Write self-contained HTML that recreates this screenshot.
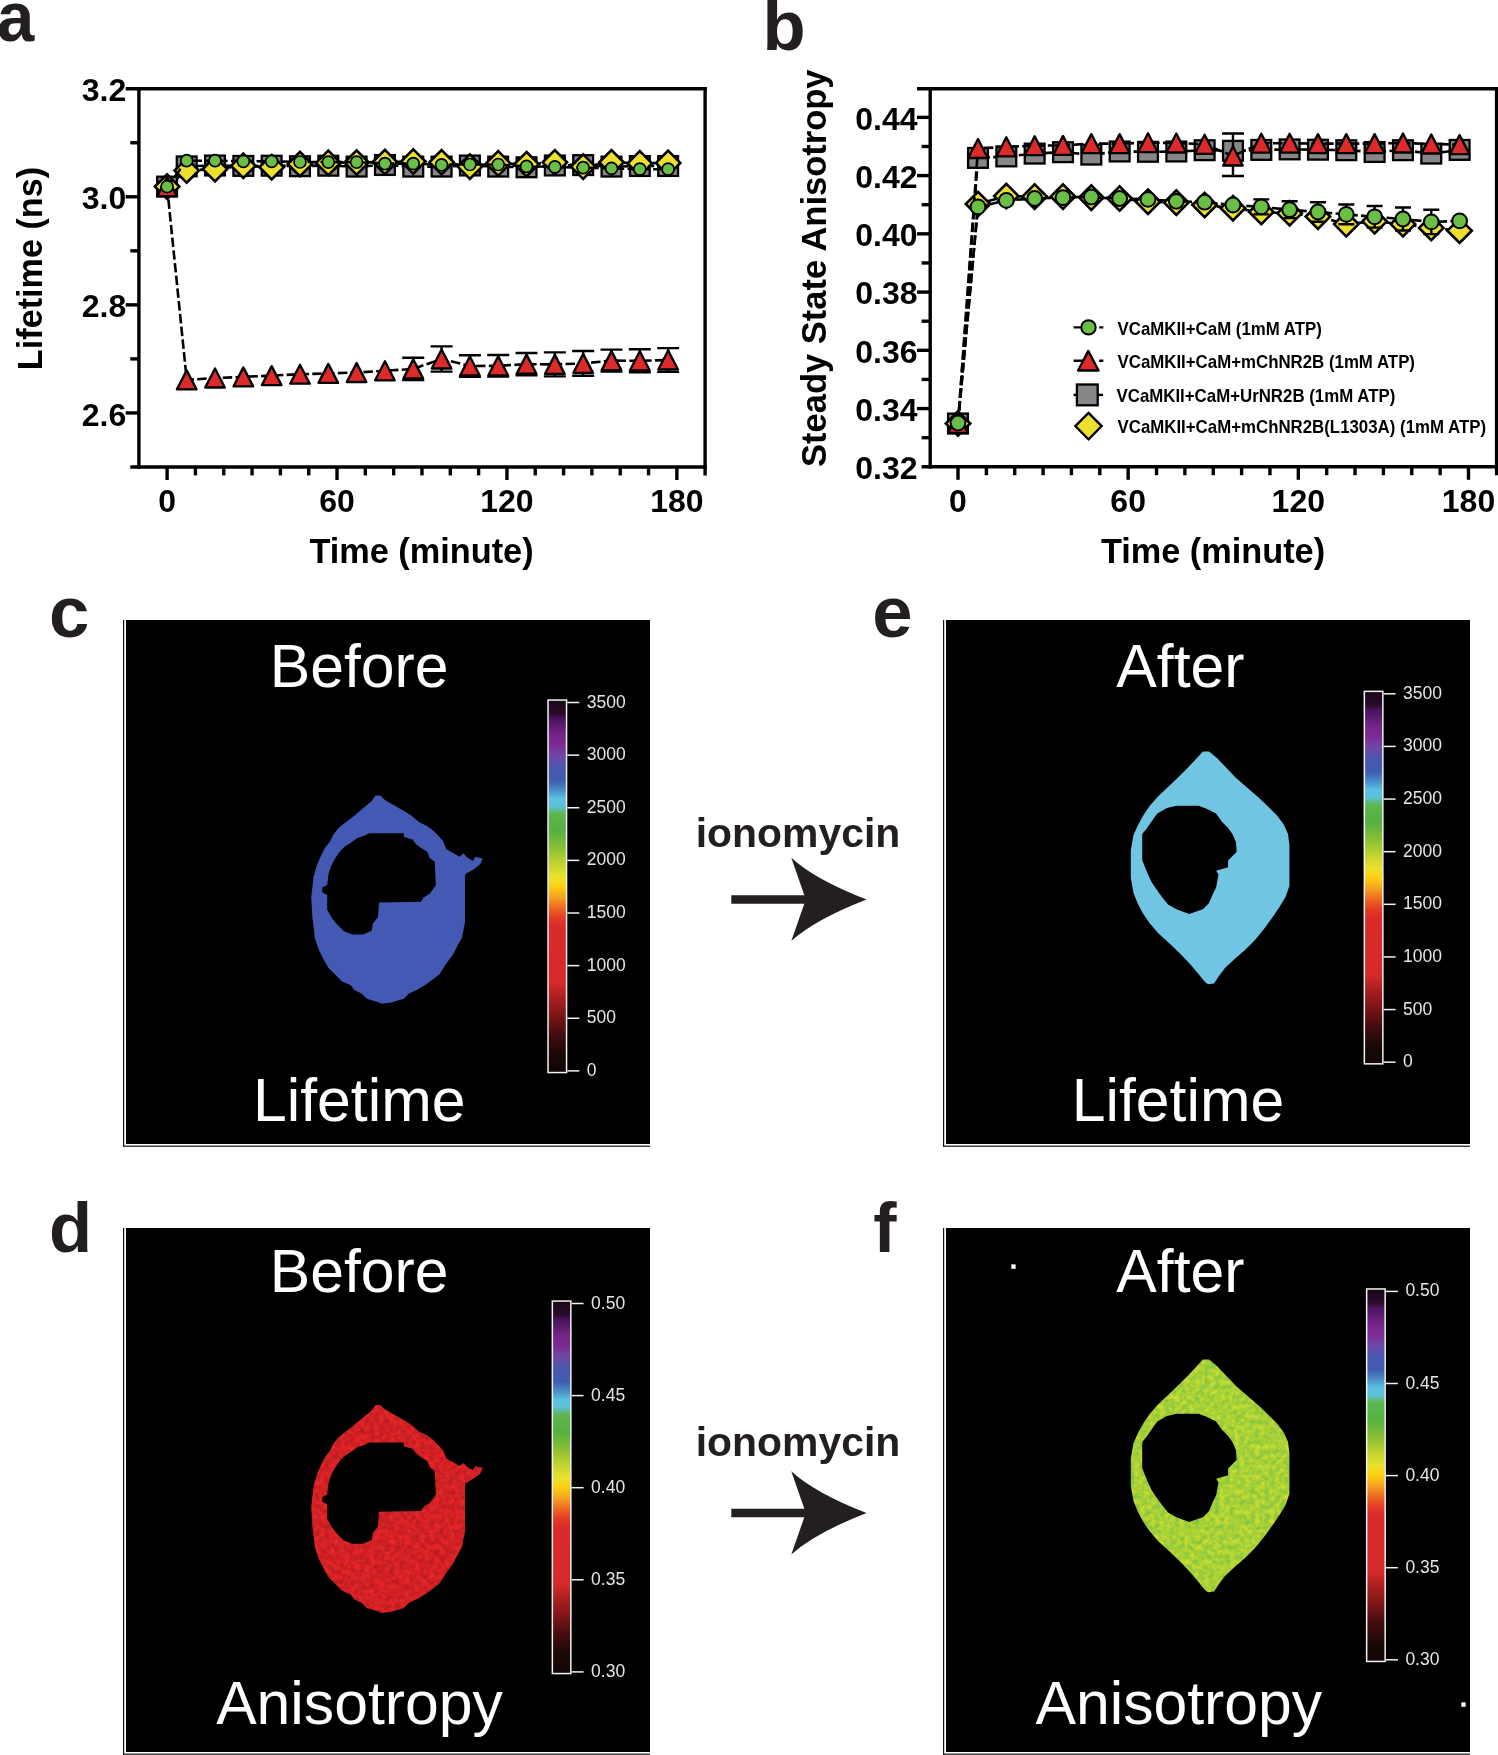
<!DOCTYPE html>
<html><head><meta charset="utf-8"><title>Figure</title>
<style>
html,body{margin:0;padding:0;background:#fff;}
body{width:1498px;height:1755px;overflow:hidden;position:relative;}
svg{position:absolute;left:0;top:0;display:block;will-change:transform;}
text{font-family:"Liberation Sans", sans-serif;}
</style></head><body>
<svg width="1498" height="1755" viewBox="0 0 1498 1755">
<defs>
<linearGradient id="cmap" x1="0" y1="0" x2="0" y2="1">
<stop offset="0" stop-color="#160816"/>
<stop offset="0.035" stop-color="#2a0a2c"/>
<stop offset="0.05" stop-color="#48145a"/>
<stop offset="0.09" stop-color="#732486"/>
<stop offset="0.12" stop-color="#7d2b94"/>
<stop offset="0.15" stop-color="#6f47a6"/>
<stop offset="0.18" stop-color="#4b57ae"/>
<stop offset="0.215" stop-color="#3f5cb0"/>
<stop offset="0.24" stop-color="#4a8ac6"/>
<stop offset="0.265" stop-color="#5cc2e2"/>
<stop offset="0.285" stop-color="#5dc0d6"/>
<stop offset="0.305" stop-color="#5cb84e"/>
<stop offset="0.35" stop-color="#54b041"/>
<stop offset="0.40" stop-color="#8cc034"/>
<stop offset="0.445" stop-color="#c8d630"/>
<stop offset="0.475" stop-color="#ebe12e"/>
<stop offset="0.50" stop-color="#fdd010"/>
<stop offset="0.53" stop-color="#f6a123"/>
<stop offset="0.555" stop-color="#ef6d22"/>
<stop offset="0.585" stop-color="#e33b25"/>
<stop offset="0.61" stop-color="#db2a2a"/>
<stop offset="0.76" stop-color="#d62a2a"/>
<stop offset="0.80" stop-color="#aa1f20"/>
<stop offset="0.85" stop-color="#7a1517"/>
<stop offset="0.90" stop-color="#420c0e"/>
<stop offset="0.95" stop-color="#1c0808"/>
<stop offset="1" stop-color="#120606"/>
</linearGradient>
<filter id="nzd" x="0" y="0" width="1" height="1" color-interpolation-filters="sRGB">
<feTurbulence type="fractalNoise" baseFrequency="0.2" numOctaves="2" seed="7" result="t"/>
<feColorMatrix in="t" type="matrix" values="0.35 0 0 0 0.65  0.08 0 0 0 0.089  0.08 0 0 0 0.105  0 0 0 0 1"/>
<feComposite in2="SourceGraphic" operator="in"/>
</filter>
<filter id="nzf" x="0" y="0" width="1" height="1" color-interpolation-filters="sRGB">
<feTurbulence type="fractalNoise" baseFrequency="0.2" numOctaves="2" seed="11" result="t"/>
<feColorMatrix in="t" type="matrix" values="0.5 0 0 0 0.41  0.18 0 0 0 0.73  -0.1 0 0 0 0.27  0 0 0 0 1"/>
<feComposite in2="SourceGraphic" operator="in"/>
</filter>
</defs>
<rect width="1498" height="1755" fill="#fff"/>

<g font-family='"Liberation Sans", sans-serif' font-weight="bold" font-size="71" fill="#231f20">
<text transform="translate(-3 41) scale(0.95 1)" font-size="70.6">a</text>
<text x="762.4" y="49.8" font-size="70.6">b</text>
<text x="49.1" y="637.4" font-size="72.5">c</text>
<text x="49.1" y="1252" font-size="70.6">d</text>
<text x="872.3" y="637.4" font-size="72.5">e</text>
<text x="873.2" y="1252" font-size="70">f</text>
</g>
<path d="M138.9 87V468.7" stroke="#000" stroke-width="3.4"/>
<path d="M705.1 87V475.4" stroke="#000" stroke-width="3.4"/>
<path d="M125.7 88.7H706.8" stroke="#000" stroke-width="3.4"/>
<path d="M130.3 467H706.8" stroke="#000" stroke-width="3.4"/>
<path d="M125.7 196.78H138.9" stroke="#000" stroke-width="3.4"/>
<path d="M125.7 304.86H138.9" stroke="#000" stroke-width="3.4"/>
<path d="M125.7 412.94H138.9" stroke="#000" stroke-width="3.4"/>
<path d="M130.3 142.74H138.9" stroke="#000" stroke-width="3.4"/>
<path d="M130.3 250.82H138.9" stroke="#000" stroke-width="3.4"/>
<path d="M130.3 358.9H138.9" stroke="#000" stroke-width="3.4"/>
<path d="M167.1 467V480" stroke="#000" stroke-width="3.4"/>
<path d="M195.42 467V475.4" stroke="#000" stroke-width="3.4"/>
<path d="M223.74 467V475.4" stroke="#000" stroke-width="3.4"/>
<path d="M252.06 467V475.4" stroke="#000" stroke-width="3.4"/>
<path d="M280.38 467V475.4" stroke="#000" stroke-width="3.4"/>
<path d="M308.7 467V475.4" stroke="#000" stroke-width="3.4"/>
<path d="M337.02 467V480" stroke="#000" stroke-width="3.4"/>
<path d="M365.34 467V475.4" stroke="#000" stroke-width="3.4"/>
<path d="M393.66 467V475.4" stroke="#000" stroke-width="3.4"/>
<path d="M421.98 467V475.4" stroke="#000" stroke-width="3.4"/>
<path d="M450.3 467V475.4" stroke="#000" stroke-width="3.4"/>
<path d="M478.62 467V475.4" stroke="#000" stroke-width="3.4"/>
<path d="M506.94 467V480" stroke="#000" stroke-width="3.4"/>
<path d="M535.26 467V475.4" stroke="#000" stroke-width="3.4"/>
<path d="M563.58 467V475.4" stroke="#000" stroke-width="3.4"/>
<path d="M591.9 467V475.4" stroke="#000" stroke-width="3.4"/>
<path d="M620.22 467V475.4" stroke="#000" stroke-width="3.4"/>
<path d="M648.54 467V475.4" stroke="#000" stroke-width="3.4"/>
<path d="M676.86 467V480" stroke="#000" stroke-width="3.4"/>
<g font-family='"Liberation Sans", sans-serif' font-weight="bold" font-size="32" fill="#000" text-anchor="end">
<text x="126.3" y="101.3">3.2</text>
<text x="126.3" y="209.38">3.0</text>
<text x="126.3" y="317.46">2.8</text>
<text x="126.3" y="425.54">2.6</text>
</g>
<g font-family='"Liberation Sans", sans-serif' font-weight="bold" font-size="32" fill="#000" text-anchor="middle">
<text x="167.1" y="512.4">0</text>
<text x="337.02" y="512.4">60</text>
<text x="506.94" y="512.4">120</text>
<text x="676.86" y="512.4">180</text>
</g>
<text x="421.5" y="563" font-family='"Liberation Sans", sans-serif' font-weight="bold" font-size="34.3" text-anchor="middle">Time (minute)</text>
<text transform="translate(41.7 268.5) rotate(-90)" font-family='"Liberation Sans", sans-serif' font-weight="bold" font-size="34.2" text-anchor="middle">Lifetime (ns)</text>
<path d="M930.2 87V468.5" stroke="#000" stroke-width="3.4"/>
<path d="M1496.6 87V475.2" stroke="#000" stroke-width="3.4"/>
<path d="M917 88.7H1498.3" stroke="#000" stroke-width="3.4"/>
<path d="M921.6 466.8H1498.3" stroke="#000" stroke-width="3.4"/>
<path d="M917 408.56H930.2" stroke="#000" stroke-width="3.4"/>
<path d="M917 350.32H930.2" stroke="#000" stroke-width="3.4"/>
<path d="M917 292.08H930.2" stroke="#000" stroke-width="3.4"/>
<path d="M917 233.84H930.2" stroke="#000" stroke-width="3.4"/>
<path d="M917 175.6H930.2" stroke="#000" stroke-width="3.4"/>
<path d="M917 117.36H930.2" stroke="#000" stroke-width="3.4"/>
<path d="M921.6 437.68H930.2" stroke="#000" stroke-width="3.4"/>
<path d="M921.6 379.44H930.2" stroke="#000" stroke-width="3.4"/>
<path d="M921.6 321.2H930.2" stroke="#000" stroke-width="3.4"/>
<path d="M921.6 262.96H930.2" stroke="#000" stroke-width="3.4"/>
<path d="M921.6 204.72H930.2" stroke="#000" stroke-width="3.4"/>
<path d="M921.6 146.48H930.2" stroke="#000" stroke-width="3.4"/>
<path d="M958 466.8V479.8" stroke="#000" stroke-width="3.4"/>
<path d="M986.36 466.8V475.2" stroke="#000" stroke-width="3.4"/>
<path d="M1014.72 466.8V475.2" stroke="#000" stroke-width="3.4"/>
<path d="M1043.08 466.8V475.2" stroke="#000" stroke-width="3.4"/>
<path d="M1071.44 466.8V475.2" stroke="#000" stroke-width="3.4"/>
<path d="M1099.8 466.8V475.2" stroke="#000" stroke-width="3.4"/>
<path d="M1128.16 466.8V479.8" stroke="#000" stroke-width="3.4"/>
<path d="M1156.52 466.8V475.2" stroke="#000" stroke-width="3.4"/>
<path d="M1184.88 466.8V475.2" stroke="#000" stroke-width="3.4"/>
<path d="M1213.24 466.8V475.2" stroke="#000" stroke-width="3.4"/>
<path d="M1241.6 466.8V475.2" stroke="#000" stroke-width="3.4"/>
<path d="M1269.96 466.8V475.2" stroke="#000" stroke-width="3.4"/>
<path d="M1298.32 466.8V479.8" stroke="#000" stroke-width="3.4"/>
<path d="M1326.68 466.8V475.2" stroke="#000" stroke-width="3.4"/>
<path d="M1355.04 466.8V475.2" stroke="#000" stroke-width="3.4"/>
<path d="M1383.4 466.8V475.2" stroke="#000" stroke-width="3.4"/>
<path d="M1411.76 466.8V475.2" stroke="#000" stroke-width="3.4"/>
<path d="M1440.12 466.8V475.2" stroke="#000" stroke-width="3.4"/>
<path d="M1468.48 466.8V479.8" stroke="#000" stroke-width="3.4"/>
<g font-family='"Liberation Sans", sans-serif' font-weight="bold" font-size="32" fill="#000" text-anchor="end">
<text x="917.5" y="479.2">0.32</text>
<text x="917.5" y="420.96">0.34</text>
<text x="917.5" y="362.72">0.36</text>
<text x="917.5" y="304.48">0.38</text>
<text x="917.5" y="246.24">0.40</text>
<text x="917.5" y="188">0.42</text>
<text x="917.5" y="129.76">0.44</text>
</g>
<g font-family='"Liberation Sans", sans-serif' font-weight="bold" font-size="32" fill="#000" text-anchor="middle">
<text x="958" y="512.4">0</text>
<text x="1128.16" y="512.4">60</text>
<text x="1298.32" y="512.4">120</text>
<text x="1468.48" y="512.4">180</text>
</g>
<text x="1213" y="563" font-family='"Liberation Sans", sans-serif' font-weight="bold" font-size="34.3" text-anchor="middle">Time (minute)</text>
<text transform="translate(825.9 268.2) rotate(-90)" font-family='"Liberation Sans", sans-serif' font-weight="bold" font-size="34.5" text-anchor="middle">Steady State Anisotropy</text>
<polyline points="167.1,186.6 186.7,166.4 215.02,165.5 243.34,165.9 271.66,165.7 299.98,166.2 328.3,165.7 356.62,166.6 384.94,165 413.26,166.6 441.58,166.6 469.9,165.5 498.22,166.6 526.54,167.3 554.86,165.5 583.18,165.1 611.5,166.6 639.82,166 668.14,166" fill="none" stroke="#000" stroke-width="2.6" stroke-dasharray="9.5 3.3"/>
<rect x="157.2" y="176.7" width="19.8" height="19.8" fill="#878787" stroke="#000" stroke-width="2.3"/>
<rect x="176.8" y="156.5" width="19.8" height="19.8" fill="#878787" stroke="#000" stroke-width="2.3"/>
<rect x="205.12" y="155.6" width="19.8" height="19.8" fill="#878787" stroke="#000" stroke-width="2.3"/>
<rect x="233.44" y="156" width="19.8" height="19.8" fill="#878787" stroke="#000" stroke-width="2.3"/>
<rect x="261.76" y="155.8" width="19.8" height="19.8" fill="#878787" stroke="#000" stroke-width="2.3"/>
<rect x="290.08" y="156.3" width="19.8" height="19.8" fill="#878787" stroke="#000" stroke-width="2.3"/>
<rect x="318.4" y="155.8" width="19.8" height="19.8" fill="#878787" stroke="#000" stroke-width="2.3"/>
<rect x="346.72" y="156.7" width="19.8" height="19.8" fill="#878787" stroke="#000" stroke-width="2.3"/>
<rect x="375.04" y="155.1" width="19.8" height="19.8" fill="#878787" stroke="#000" stroke-width="2.3"/>
<rect x="403.36" y="156.7" width="19.8" height="19.8" fill="#878787" stroke="#000" stroke-width="2.3"/>
<rect x="431.68" y="156.7" width="19.8" height="19.8" fill="#878787" stroke="#000" stroke-width="2.3"/>
<rect x="460" y="155.6" width="19.8" height="19.8" fill="#878787" stroke="#000" stroke-width="2.3"/>
<rect x="488.32" y="156.7" width="19.8" height="19.8" fill="#878787" stroke="#000" stroke-width="2.3"/>
<rect x="516.64" y="157.4" width="19.8" height="19.8" fill="#878787" stroke="#000" stroke-width="2.3"/>
<rect x="544.96" y="155.6" width="19.8" height="19.8" fill="#878787" stroke="#000" stroke-width="2.3"/>
<rect x="573.28" y="155.2" width="19.8" height="19.8" fill="#878787" stroke="#000" stroke-width="2.3"/>
<rect x="601.6" y="156.7" width="19.8" height="19.8" fill="#878787" stroke="#000" stroke-width="2.3"/>
<rect x="629.92" y="156.1" width="19.8" height="19.8" fill="#878787" stroke="#000" stroke-width="2.3"/>
<rect x="658.24" y="156.1" width="19.8" height="19.8" fill="#878787" stroke="#000" stroke-width="2.3"/>
<polyline points="167.1,186.6 186.7,170.5 215.02,169.1 243.34,165.8 271.66,167.2 299.98,164 328.3,162.9 356.62,162.5 384.94,162 413.26,161.5 441.58,162.3 469.9,166.6 498.22,163.4 526.54,164.2 554.86,162.3 583.18,166.6 611.5,162.3 639.82,163.4 668.14,162.9" fill="none" stroke="#000" stroke-width="2.6" stroke-dasharray="9.5 3.3"/>
<path d="M167.1 174.4L179.3 186.6L167.1 198.8L154.9 186.6Z" fill="#ebe02e" stroke="#000" stroke-width="2.6" stroke-linejoin="miter"/>
<path d="M186.7 158.3L198.9 170.5L186.7 182.7L174.5 170.5Z" fill="#ebe02e" stroke="#000" stroke-width="2.6" stroke-linejoin="miter"/>
<path d="M215.02 156.9L227.22 169.1L215.02 181.3L202.82 169.1Z" fill="#ebe02e" stroke="#000" stroke-width="2.6" stroke-linejoin="miter"/>
<path d="M243.34 153.6L255.54 165.8L243.34 178L231.14 165.8Z" fill="#ebe02e" stroke="#000" stroke-width="2.6" stroke-linejoin="miter"/>
<path d="M271.66 155L283.86 167.2L271.66 179.4L259.46 167.2Z" fill="#ebe02e" stroke="#000" stroke-width="2.6" stroke-linejoin="miter"/>
<path d="M299.98 151.8L312.18 164L299.98 176.2L287.78 164Z" fill="#ebe02e" stroke="#000" stroke-width="2.6" stroke-linejoin="miter"/>
<path d="M328.3 150.7L340.5 162.9L328.3 175.1L316.1 162.9Z" fill="#ebe02e" stroke="#000" stroke-width="2.6" stroke-linejoin="miter"/>
<path d="M356.62 150.3L368.82 162.5L356.62 174.7L344.42 162.5Z" fill="#ebe02e" stroke="#000" stroke-width="2.6" stroke-linejoin="miter"/>
<path d="M384.94 149.8L397.14 162L384.94 174.2L372.74 162Z" fill="#ebe02e" stroke="#000" stroke-width="2.6" stroke-linejoin="miter"/>
<path d="M413.26 149.3L425.46 161.5L413.26 173.7L401.06 161.5Z" fill="#ebe02e" stroke="#000" stroke-width="2.6" stroke-linejoin="miter"/>
<path d="M441.58 150.1L453.78 162.3L441.58 174.5L429.38 162.3Z" fill="#ebe02e" stroke="#000" stroke-width="2.6" stroke-linejoin="miter"/>
<path d="M469.9 154.4L482.1 166.6L469.9 178.8L457.7 166.6Z" fill="#ebe02e" stroke="#000" stroke-width="2.6" stroke-linejoin="miter"/>
<path d="M498.22 151.2L510.42 163.4L498.22 175.6L486.02 163.4Z" fill="#ebe02e" stroke="#000" stroke-width="2.6" stroke-linejoin="miter"/>
<path d="M526.54 152L538.74 164.2L526.54 176.4L514.34 164.2Z" fill="#ebe02e" stroke="#000" stroke-width="2.6" stroke-linejoin="miter"/>
<path d="M554.86 150.1L567.06 162.3L554.86 174.5L542.66 162.3Z" fill="#ebe02e" stroke="#000" stroke-width="2.6" stroke-linejoin="miter"/>
<path d="M583.18 154.4L595.38 166.6L583.18 178.8L570.98 166.6Z" fill="#ebe02e" stroke="#000" stroke-width="2.6" stroke-linejoin="miter"/>
<path d="M611.5 150.1L623.7 162.3L611.5 174.5L599.3 162.3Z" fill="#ebe02e" stroke="#000" stroke-width="2.6" stroke-linejoin="miter"/>
<path d="M639.82 151.2L652.02 163.4L639.82 175.6L627.62 163.4Z" fill="#ebe02e" stroke="#000" stroke-width="2.6" stroke-linejoin="miter"/>
<path d="M668.14 150.7L680.34 162.9L668.14 175.1L655.94 162.9Z" fill="#ebe02e" stroke="#000" stroke-width="2.6" stroke-linejoin="miter"/>
<polyline points="167.1,186.6 186.7,379.9 215.02,378 243.34,376.9 271.66,375.6 299.98,374.2 328.3,373.4 356.62,372.5 384.94,370.8 413.26,368.9 441.58,359 469.9,366 498.22,365.8 526.54,364.1 554.86,364.4 583.18,363.4 611.5,360.6 639.82,360.8 668.14,360" fill="none" stroke="#000" stroke-width="2.6" stroke-dasharray="9.5 3.3"/>
<path d="M167.1 177.1L176.9 196.1L157.3 196.1Z" fill="#dd2a2b" stroke="#000" stroke-width="2.3" stroke-linejoin="round"/>
<path d="M186.7 370.4L196.5 389.4L176.9 389.4Z" fill="#dd2a2b" stroke="#000" stroke-width="2.3" stroke-linejoin="round"/>
<path d="M215.02 368.5L224.82 387.5L205.22 387.5Z" fill="#dd2a2b" stroke="#000" stroke-width="2.3" stroke-linejoin="round"/>
<path d="M243.34 367.4L253.14 386.4L233.54 386.4Z" fill="#dd2a2b" stroke="#000" stroke-width="2.3" stroke-linejoin="round"/>
<path d="M271.66 366.1L281.46 385.1L261.86 385.1Z" fill="#dd2a2b" stroke="#000" stroke-width="2.3" stroke-linejoin="round"/>
<path d="M299.98 364.7L309.78 383.7L290.18 383.7Z" fill="#dd2a2b" stroke="#000" stroke-width="2.3" stroke-linejoin="round"/>
<path d="M328.3 363.9L338.1 382.9L318.5 382.9Z" fill="#dd2a2b" stroke="#000" stroke-width="2.3" stroke-linejoin="round"/>
<path d="M356.62 363L366.42 382L346.82 382Z" fill="#dd2a2b" stroke="#000" stroke-width="2.3" stroke-linejoin="round"/>
<path d="M384.94 361.3L394.74 380.3L375.14 380.3Z" fill="#dd2a2b" stroke="#000" stroke-width="2.3" stroke-linejoin="round"/>
<path d="M413.26 357.8V380M402.26 357.8H424.26M402.26 380H424.26" stroke="#000" stroke-width="2.4" fill="none"/>
<path d="M413.26 359.4L423.06 378.4L403.46 378.4Z" fill="#dd2a2b" stroke="#000" stroke-width="2.3" stroke-linejoin="round"/>
<path d="M441.58 346.4V371.6M430.58 346.4H452.58M430.58 371.6H452.58" stroke="#000" stroke-width="2.4" fill="none"/>
<path d="M441.58 349.5L451.38 368.5L431.78 368.5Z" fill="#dd2a2b" stroke="#000" stroke-width="2.3" stroke-linejoin="round"/>
<path d="M469.9 355.2V376.8M458.9 355.2H480.9M458.9 376.8H480.9" stroke="#000" stroke-width="2.4" fill="none"/>
<path d="M469.9 356.5L479.7 375.5L460.1 375.5Z" fill="#dd2a2b" stroke="#000" stroke-width="2.3" stroke-linejoin="round"/>
<path d="M498.22 355V376.6M487.22 355H509.22M487.22 376.6H509.22" stroke="#000" stroke-width="2.4" fill="none"/>
<path d="M498.22 356.3L508.02 375.3L488.42 375.3Z" fill="#dd2a2b" stroke="#000" stroke-width="2.3" stroke-linejoin="round"/>
<path d="M526.54 353V375.2M515.54 353H537.54M515.54 375.2H537.54" stroke="#000" stroke-width="2.4" fill="none"/>
<path d="M526.54 354.6L536.34 373.6L516.74 373.6Z" fill="#dd2a2b" stroke="#000" stroke-width="2.3" stroke-linejoin="round"/>
<path d="M554.86 352.4V376.4M543.86 352.4H565.86M543.86 376.4H565.86" stroke="#000" stroke-width="2.4" fill="none"/>
<path d="M554.86 354.9L564.66 373.9L545.06 373.9Z" fill="#dd2a2b" stroke="#000" stroke-width="2.3" stroke-linejoin="round"/>
<path d="M583.18 351V375.8M572.18 351H594.18M572.18 375.8H594.18" stroke="#000" stroke-width="2.4" fill="none"/>
<path d="M583.18 353.9L592.98 372.9L573.38 372.9Z" fill="#dd2a2b" stroke="#000" stroke-width="2.3" stroke-linejoin="round"/>
<path d="M611.5 349.6V371.6M600.5 349.6H622.5M600.5 371.6H622.5" stroke="#000" stroke-width="2.4" fill="none"/>
<path d="M611.5 351.1L621.3 370.1L601.7 370.1Z" fill="#dd2a2b" stroke="#000" stroke-width="2.3" stroke-linejoin="round"/>
<path d="M639.82 349.3V372.3M628.82 349.3H650.82M628.82 372.3H650.82" stroke="#000" stroke-width="2.4" fill="none"/>
<path d="M639.82 351.3L649.62 370.3L630.02 370.3Z" fill="#dd2a2b" stroke="#000" stroke-width="2.3" stroke-linejoin="round"/>
<path d="M668.14 348.1V371.9M657.14 348.1H679.14M657.14 371.9H679.14" stroke="#000" stroke-width="2.4" fill="none"/>
<path d="M668.14 350.5L677.94 369.5L658.34 369.5Z" fill="#dd2a2b" stroke="#000" stroke-width="2.3" stroke-linejoin="round"/>
<polyline points="167.1,186.7 186.7,160.7 215.02,160.7 243.34,161.3 271.66,161.3 299.98,162 328.3,162.1 356.62,162.1 384.94,163.6 413.26,163.6 441.58,164.9 469.9,164.5 498.22,164.5 526.54,166.4 554.86,166.8 583.18,167.7 611.5,168.3 639.82,169.2 668.14,169.2" fill="none" stroke="#000" stroke-width="2.6" stroke-dasharray="9.5 3.3"/>
<circle cx="167.1" cy="186.7" r="6" fill="#6abd45" stroke="#000" stroke-width="1.7"/>
<circle cx="186.7" cy="160.7" r="6" fill="#6abd45" stroke="#000" stroke-width="1.7"/>
<circle cx="215.02" cy="160.7" r="6" fill="#6abd45" stroke="#000" stroke-width="1.7"/>
<circle cx="243.34" cy="161.3" r="6" fill="#6abd45" stroke="#000" stroke-width="1.7"/>
<circle cx="271.66" cy="161.3" r="6" fill="#6abd45" stroke="#000" stroke-width="1.7"/>
<circle cx="299.98" cy="162" r="6" fill="#6abd45" stroke="#000" stroke-width="1.7"/>
<circle cx="328.3" cy="162.1" r="6" fill="#6abd45" stroke="#000" stroke-width="1.7"/>
<circle cx="356.62" cy="162.1" r="6" fill="#6abd45" stroke="#000" stroke-width="1.7"/>
<circle cx="384.94" cy="163.6" r="6" fill="#6abd45" stroke="#000" stroke-width="1.7"/>
<circle cx="413.26" cy="163.6" r="6" fill="#6abd45" stroke="#000" stroke-width="1.7"/>
<circle cx="441.58" cy="164.9" r="6" fill="#6abd45" stroke="#000" stroke-width="1.7"/>
<circle cx="469.9" cy="164.5" r="6" fill="#6abd45" stroke="#000" stroke-width="1.7"/>
<circle cx="498.22" cy="164.5" r="6" fill="#6abd45" stroke="#000" stroke-width="1.7"/>
<circle cx="526.54" cy="166.4" r="6" fill="#6abd45" stroke="#000" stroke-width="1.7"/>
<circle cx="554.86" cy="166.8" r="6" fill="#6abd45" stroke="#000" stroke-width="1.7"/>
<circle cx="583.18" cy="167.7" r="6" fill="#6abd45" stroke="#000" stroke-width="1.7"/>
<circle cx="611.5" cy="168.3" r="6" fill="#6abd45" stroke="#000" stroke-width="1.7"/>
<circle cx="639.82" cy="169.2" r="6" fill="#6abd45" stroke="#000" stroke-width="1.7"/>
<circle cx="668.14" cy="169.2" r="6" fill="#6abd45" stroke="#000" stroke-width="1.7"/>
<polyline points="958,423.5 978,157.9 1006.33,156.4 1034.66,153.6 1062.99,152.2 1091.32,154.6 1119.65,151.5 1147.98,151.8 1176.31,151.5 1204.64,150.2 1232.97,150.8 1261.3,149.9 1289.63,149.4 1317.96,149.7 1346.29,150.2 1374.62,152 1402.95,150.2 1431.28,153.6 1459.61,149.9" fill="none" stroke="#000" stroke-width="2.6" stroke-dasharray="9.5 3.3"/>
<rect x="948.1" y="413.6" width="19.8" height="19.8" fill="#878787" stroke="#000" stroke-width="2.3"/>
<rect x="968.1" y="148" width="19.8" height="19.8" fill="#878787" stroke="#000" stroke-width="2.3"/>
<rect x="996.43" y="146.5" width="19.8" height="19.8" fill="#878787" stroke="#000" stroke-width="2.3"/>
<rect x="1024.76" y="143.7" width="19.8" height="19.8" fill="#878787" stroke="#000" stroke-width="2.3"/>
<rect x="1053.09" y="142.3" width="19.8" height="19.8" fill="#878787" stroke="#000" stroke-width="2.3"/>
<rect x="1081.42" y="144.7" width="19.8" height="19.8" fill="#878787" stroke="#000" stroke-width="2.3"/>
<rect x="1109.75" y="141.6" width="19.8" height="19.8" fill="#878787" stroke="#000" stroke-width="2.3"/>
<rect x="1138.08" y="141.9" width="19.8" height="19.8" fill="#878787" stroke="#000" stroke-width="2.3"/>
<rect x="1166.41" y="141.6" width="19.8" height="19.8" fill="#878787" stroke="#000" stroke-width="2.3"/>
<rect x="1194.74" y="140.3" width="19.8" height="19.8" fill="#878787" stroke="#000" stroke-width="2.3"/>
<rect x="1223.07" y="140.9" width="19.8" height="19.8" fill="#878787" stroke="#000" stroke-width="2.3"/>
<rect x="1251.4" y="140" width="19.8" height="19.8" fill="#878787" stroke="#000" stroke-width="2.3"/>
<rect x="1279.73" y="139.5" width="19.8" height="19.8" fill="#878787" stroke="#000" stroke-width="2.3"/>
<rect x="1308.06" y="139.8" width="19.8" height="19.8" fill="#878787" stroke="#000" stroke-width="2.3"/>
<rect x="1336.39" y="140.3" width="19.8" height="19.8" fill="#878787" stroke="#000" stroke-width="2.3"/>
<rect x="1364.72" y="142.1" width="19.8" height="19.8" fill="#878787" stroke="#000" stroke-width="2.3"/>
<rect x="1393.05" y="140.3" width="19.8" height="19.8" fill="#878787" stroke="#000" stroke-width="2.3"/>
<rect x="1421.38" y="143.7" width="19.8" height="19.8" fill="#878787" stroke="#000" stroke-width="2.3"/>
<rect x="1449.71" y="140" width="19.8" height="19.8" fill="#878787" stroke="#000" stroke-width="2.3"/>
<polyline points="958,423.5 978,204 1006.33,196 1034.66,196.6 1062.99,196.6 1091.32,197.6 1119.65,198.5 1147.98,201.7 1176.31,202.6 1204.64,205 1232.97,208.2 1261.3,212 1289.63,213.3 1317.96,216.6 1346.29,224.1 1374.62,221.3 1402.95,224.1 1431.28,227.9 1459.61,230.7" fill="none" stroke="#000" stroke-width="2.6" stroke-dasharray="9.5 3.3"/>
<path d="M958 411.3L970.2 423.5L958 435.7L945.8 423.5Z" fill="#ebe02e" stroke="#000" stroke-width="2.6" stroke-linejoin="miter"/>
<path d="M978 191.8L990.2 204L978 216.2L965.8 204Z" fill="#ebe02e" stroke="#000" stroke-width="2.6" stroke-linejoin="miter"/>
<path d="M1006.33 183.8L1018.53 196L1006.33 208.2L994.13 196Z" fill="#ebe02e" stroke="#000" stroke-width="2.6" stroke-linejoin="miter"/>
<path d="M1034.66 184.4L1046.86 196.6L1034.66 208.8L1022.46 196.6Z" fill="#ebe02e" stroke="#000" stroke-width="2.6" stroke-linejoin="miter"/>
<path d="M1062.99 184.4L1075.19 196.6L1062.99 208.8L1050.79 196.6Z" fill="#ebe02e" stroke="#000" stroke-width="2.6" stroke-linejoin="miter"/>
<path d="M1091.32 185.4L1103.52 197.6L1091.32 209.8L1079.12 197.6Z" fill="#ebe02e" stroke="#000" stroke-width="2.6" stroke-linejoin="miter"/>
<path d="M1119.65 186.3L1131.85 198.5L1119.65 210.7L1107.45 198.5Z" fill="#ebe02e" stroke="#000" stroke-width="2.6" stroke-linejoin="miter"/>
<path d="M1147.98 189.5L1160.18 201.7L1147.98 213.9L1135.78 201.7Z" fill="#ebe02e" stroke="#000" stroke-width="2.6" stroke-linejoin="miter"/>
<path d="M1176.31 190.4L1188.51 202.6L1176.31 214.8L1164.11 202.6Z" fill="#ebe02e" stroke="#000" stroke-width="2.6" stroke-linejoin="miter"/>
<path d="M1204.64 192.8L1216.84 205L1204.64 217.2L1192.44 205Z" fill="#ebe02e" stroke="#000" stroke-width="2.6" stroke-linejoin="miter"/>
<path d="M1232.97 196L1245.17 208.2L1232.97 220.4L1220.77 208.2Z" fill="#ebe02e" stroke="#000" stroke-width="2.6" stroke-linejoin="miter"/>
<path d="M1261.3 199.8L1273.5 212L1261.3 224.2L1249.1 212Z" fill="#ebe02e" stroke="#000" stroke-width="2.6" stroke-linejoin="miter"/>
<path d="M1289.63 201.1L1301.83 213.3L1289.63 225.5L1277.43 213.3Z" fill="#ebe02e" stroke="#000" stroke-width="2.6" stroke-linejoin="miter"/>
<path d="M1317.96 204.4L1330.16 216.6L1317.96 228.8L1305.76 216.6Z" fill="#ebe02e" stroke="#000" stroke-width="2.6" stroke-linejoin="miter"/>
<path d="M1346.29 211.9L1358.49 224.1L1346.29 236.3L1334.09 224.1Z" fill="#ebe02e" stroke="#000" stroke-width="2.6" stroke-linejoin="miter"/>
<path d="M1374.62 209.1L1386.82 221.3L1374.62 233.5L1362.42 221.3Z" fill="#ebe02e" stroke="#000" stroke-width="2.6" stroke-linejoin="miter"/>
<path d="M1402.95 211.9L1415.15 224.1L1402.95 236.3L1390.75 224.1Z" fill="#ebe02e" stroke="#000" stroke-width="2.6" stroke-linejoin="miter"/>
<path d="M1431.28 215.7L1443.48 227.9L1431.28 240.1L1419.08 227.9Z" fill="#ebe02e" stroke="#000" stroke-width="2.6" stroke-linejoin="miter"/>
<path d="M1459.61 218.5L1471.81 230.7L1459.61 242.9L1447.41 230.7Z" fill="#ebe02e" stroke="#000" stroke-width="2.6" stroke-linejoin="miter"/>
<polyline points="958,423.5 978,148.5 1006.33,146.8 1034.66,145.7 1062.99,145.4 1091.32,143.6 1119.65,143.6 1147.98,142.7 1176.31,143 1204.64,144.3 1232.97,156 1261.3,143.2 1289.63,143.2 1317.96,143.6 1346.29,143.6 1374.62,143.6 1402.95,143 1431.28,144 1459.61,144.6" fill="none" stroke="#000" stroke-width="2.6" stroke-dasharray="9.5 3.3"/>
<path d="M958 414L967.8 433L948.2 433Z" fill="#dd2a2b" stroke="#000" stroke-width="2.3" stroke-linejoin="round"/>
<path d="M978 139L987.8 158L968.2 158Z" fill="#dd2a2b" stroke="#000" stroke-width="2.3" stroke-linejoin="round"/>
<path d="M1006.33 137.3L1016.13 156.3L996.53 156.3Z" fill="#dd2a2b" stroke="#000" stroke-width="2.3" stroke-linejoin="round"/>
<path d="M1034.66 136.2L1044.46 155.2L1024.86 155.2Z" fill="#dd2a2b" stroke="#000" stroke-width="2.3" stroke-linejoin="round"/>
<path d="M1062.99 135.9L1072.79 154.9L1053.19 154.9Z" fill="#dd2a2b" stroke="#000" stroke-width="2.3" stroke-linejoin="round"/>
<path d="M1091.32 134.1L1101.12 153.1L1081.52 153.1Z" fill="#dd2a2b" stroke="#000" stroke-width="2.3" stroke-linejoin="round"/>
<path d="M1119.65 134.1L1129.45 153.1L1109.85 153.1Z" fill="#dd2a2b" stroke="#000" stroke-width="2.3" stroke-linejoin="round"/>
<path d="M1147.98 133.2L1157.78 152.2L1138.18 152.2Z" fill="#dd2a2b" stroke="#000" stroke-width="2.3" stroke-linejoin="round"/>
<path d="M1176.31 133.5L1186.11 152.5L1166.51 152.5Z" fill="#dd2a2b" stroke="#000" stroke-width="2.3" stroke-linejoin="round"/>
<path d="M1204.64 134.8L1214.44 153.8L1194.84 153.8Z" fill="#dd2a2b" stroke="#000" stroke-width="2.3" stroke-linejoin="round"/>
<path d="M1232.97 133.5V176M1221.97 133.5H1243.97M1221.97 176H1243.97" stroke="#000" stroke-width="2.4" fill="none"/>
<path d="M1232.97 146.5L1242.77 165.5L1223.17 165.5Z" fill="#dd2a2b" stroke="#000" stroke-width="2.3" stroke-linejoin="round"/>
<path d="M1261.3 133.7L1271.1 152.7L1251.5 152.7Z" fill="#dd2a2b" stroke="#000" stroke-width="2.3" stroke-linejoin="round"/>
<path d="M1289.63 133.7L1299.43 152.7L1279.83 152.7Z" fill="#dd2a2b" stroke="#000" stroke-width="2.3" stroke-linejoin="round"/>
<path d="M1317.96 134.1L1327.76 153.1L1308.16 153.1Z" fill="#dd2a2b" stroke="#000" stroke-width="2.3" stroke-linejoin="round"/>
<path d="M1346.29 134.1L1356.09 153.1L1336.49 153.1Z" fill="#dd2a2b" stroke="#000" stroke-width="2.3" stroke-linejoin="round"/>
<path d="M1374.62 134.1L1384.42 153.1L1364.82 153.1Z" fill="#dd2a2b" stroke="#000" stroke-width="2.3" stroke-linejoin="round"/>
<path d="M1402.95 133.5L1412.75 152.5L1393.15 152.5Z" fill="#dd2a2b" stroke="#000" stroke-width="2.3" stroke-linejoin="round"/>
<path d="M1431.28 134.5L1441.08 153.5L1421.48 153.5Z" fill="#dd2a2b" stroke="#000" stroke-width="2.3" stroke-linejoin="round"/>
<path d="M1459.61 135.1L1469.41 154.1L1449.81 154.1Z" fill="#dd2a2b" stroke="#000" stroke-width="2.3" stroke-linejoin="round"/>
<polyline points="958,423 978,206.9 1006.33,200.4 1034.66,198.5 1062.99,197.6 1091.32,197 1119.65,198.5 1147.98,199.4 1176.31,201.3 1204.64,202.2 1232.97,205 1261.3,206.9 1289.63,209.7 1317.96,212 1346.29,214.4 1374.62,216.8 1402.95,219 1431.28,221.9 1459.61,220.9" fill="none" stroke="#000" stroke-width="2.6" stroke-dasharray="9.5 3.3"/>
<circle cx="958" cy="423" r="7.4" fill="#6abd45" stroke="#000" stroke-width="2.0"/>
<circle cx="978" cy="206.9" r="7.4" fill="#6abd45" stroke="#000" stroke-width="2.0"/>
<circle cx="1006.33" cy="200.4" r="7.4" fill="#6abd45" stroke="#000" stroke-width="2.0"/>
<circle cx="1034.66" cy="198.5" r="7.4" fill="#6abd45" stroke="#000" stroke-width="2.0"/>
<circle cx="1062.99" cy="197.6" r="7.4" fill="#6abd45" stroke="#000" stroke-width="2.0"/>
<circle cx="1091.32" cy="197" r="7.4" fill="#6abd45" stroke="#000" stroke-width="2.0"/>
<circle cx="1119.65" cy="198.5" r="7.4" fill="#6abd45" stroke="#000" stroke-width="2.0"/>
<circle cx="1147.98" cy="199.4" r="7.4" fill="#6abd45" stroke="#000" stroke-width="2.0"/>
<circle cx="1176.31" cy="201.3" r="7.4" fill="#6abd45" stroke="#000" stroke-width="2.0"/>
<circle cx="1204.64" cy="202.2" r="7.4" fill="#6abd45" stroke="#000" stroke-width="2.0"/>
<circle cx="1232.97" cy="205" r="7.4" fill="#6abd45" stroke="#000" stroke-width="2.0"/>
<path d="M1261.3 199.4V214.4M1253.3 199.4H1269.3M1253.3 214.4H1269.3" stroke="#000" stroke-width="2.4" fill="none"/>
<circle cx="1261.3" cy="206.9" r="7.4" fill="#6abd45" stroke="#000" stroke-width="2.0"/>
<path d="M1289.63 201.3V218.1M1281.63 201.3H1297.63M1281.63 218.1H1297.63" stroke="#000" stroke-width="2.4" fill="none"/>
<circle cx="1289.63" cy="209.7" r="7.4" fill="#6abd45" stroke="#000" stroke-width="2.0"/>
<path d="M1317.96 202.2V221.8M1309.96 202.2H1325.96M1309.96 221.8H1325.96" stroke="#000" stroke-width="2.4" fill="none"/>
<circle cx="1317.96" cy="212" r="7.4" fill="#6abd45" stroke="#000" stroke-width="2.0"/>
<path d="M1346.29 204.5V224.3M1338.29 204.5H1354.29M1338.29 224.3H1354.29" stroke="#000" stroke-width="2.4" fill="none"/>
<circle cx="1346.29" cy="214.4" r="7.4" fill="#6abd45" stroke="#000" stroke-width="2.0"/>
<path d="M1374.62 206V227.6M1366.62 206H1382.62M1366.62 227.6H1382.62" stroke="#000" stroke-width="2.4" fill="none"/>
<circle cx="1374.62" cy="216.8" r="7.4" fill="#6abd45" stroke="#000" stroke-width="2.0"/>
<path d="M1402.95 207.5V230.5M1394.95 207.5H1410.95M1394.95 230.5H1410.95" stroke="#000" stroke-width="2.4" fill="none"/>
<circle cx="1402.95" cy="219" r="7.4" fill="#6abd45" stroke="#000" stroke-width="2.0"/>
<path d="M1431.28 209.7V234.1M1423.28 209.7H1439.28M1423.28 234.1H1439.28" stroke="#000" stroke-width="2.4" fill="none"/>
<circle cx="1431.28" cy="221.9" r="7.4" fill="#6abd45" stroke="#000" stroke-width="2.0"/>
<circle cx="1459.61" cy="220.9" r="7.4" fill="#6abd45" stroke="#000" stroke-width="2.0"/>
<path d="M1073.6 327.4H1084M1099.2 327.4H1103.3" stroke="#000" stroke-width="2.4"/>
<circle cx="1088.5" cy="327.4" r="7.2" fill="#6abd45" stroke="#000" stroke-width="2.0"/>
<path d="M1073.6 360.7H1084M1099.2 360.7H1103.3" stroke="#000" stroke-width="2.4"/>
<path d="M1088.3 350.9L1098.55 370.5L1078.05 370.5Z" fill="#dd2a2b" stroke="#000" stroke-width="2.3" stroke-linejoin="round"/>
<path d="M1073.6 394.9H1103" stroke="#000" stroke-width="2.4"/>
<rect x="1076.9" y="384.5" width="20.8" height="20.8" fill="#878787" stroke="#000" stroke-width="2.3"/>
<path d="M1088.5 412.9L1101.7 426.1L1088.5 439.3L1075.3 426.1Z" fill="#ebe02e" stroke="#000" stroke-width="2.3" stroke-linejoin="miter"/>
<g font-family='"Liberation Sans", sans-serif' font-weight="bold" font-size="17.6" fill="#000">
<text transform="translate(1117.5 334.6) scale(0.957 1)">VCaMKII+CaM (1mM ATP)</text>
<text transform="translate(1117.5 367.5) scale(0.957 1)">VCaMKII+CaM+mChNR2B (1mM ATP)</text>
<text transform="translate(1116.5 402.4) scale(0.957 1)">VCaMKII+CaM+UrNR2B (1mM ATP)</text>
<text transform="translate(1117.5 433.2) scale(0.957 1)">VCaMKII+CaM+mChNR2B(L1303A) (1mM ATP)</text>
</g>
<rect x="123" y="620" width="1.2" height="526.6" fill="#111"/>
<rect x="123" y="1145.6" width="527" height="1.2" fill="#111"/>
<rect x="126" y="620" width="524" height="524" fill="#000"/>
<path d="M375.4 795.6L380.3 795.6L385 800L391 803.5L397 807L403.6 810.8L410.6 815L419 822.1L427.4 826.3L433 830.5L438.6 836.1L443 841L446.5 849.3L453.2 853L459.4 856.7L463.7 853.6L466.8 857.3L473 861L475.4 856.7L482.8 858.5L480.4 864.1L474.2 869L465.6 874L465 876.5L465 922.2L461.8 938.2L458.1 944.4L453.2 954.3L445.8 964.2L439.6 974L433.4 979L424.8 985.2L418.6 988.9L408.7 993.8L403.8 998.7L391.5 1002.4L381.6 1003.7L379.1 1002.4L366.8 998.7L361.8 993.8L354.4 990.1L350.7 985.2L342 981.5L333.4 972.8L328.5 967.9L323.5 959.2L318.6 949.3L314.9 938.2L312.4 917.2L311.2 897.4L313.6 876.5L317.3 864.1L321.1 855.5L324.8 848L329.7 841.9L333.4 834.5L338.3 828.3L344.5 823.3L350.7 818.4L356.9 813.5L364.3 807.3L371.7 801.1ZM369.2 833.2L403.8 833.2L403.8 837L412.4 839.4L416.2 844.3L421.1 848L427.3 851.8L429.7 857.9L434.7 861.6L435.9 885.1L433.4 888.8L429.7 893.7L423.6 897.4L421.1 901.8L379.1 902.4L377.9 917.2L372.9 923.4L371.7 930.8L363 934.5L351.9 934.5L343.3 930.8L337.1 924.6L332.2 918.5L327.2 909.8L327.2 895L322.3 892.5L322.3 887.6L327.2 885.1L328.5 874L330.9 866.6L334.6 859.2L339.6 851.8L344.5 846.8L351.9 841.9L356.9 838.2L364.3 835.7Z" fill="#4459b4" fill-rule="evenodd"/>
<rect x="548.3" y="700.3" width="18" height="372" fill="url(#cmap)"/>
<rect x="548.05" y="700.05" width="18.5" height="372.5" fill="none" stroke="#f2f2f2" stroke-width="1.5"/>
<path d="M567.3 702.5H579.3" stroke="#f2f2f2" stroke-width="1.5"/>
<text x="586.8" y="707.5" font-family='"Liberation Sans", sans-serif' font-size="17.5" fill="#e6e6e6">3500</text>
<path d="M567.3 755.13H579.3" stroke="#f2f2f2" stroke-width="1.5"/>
<text x="586.8" y="760.13" font-family='"Liberation Sans", sans-serif' font-size="17.5" fill="#e6e6e6">3000</text>
<path d="M567.3 807.76H579.3" stroke="#f2f2f2" stroke-width="1.5"/>
<text x="586.8" y="812.76" font-family='"Liberation Sans", sans-serif' font-size="17.5" fill="#e6e6e6">2500</text>
<path d="M567.3 860.39H579.3" stroke="#f2f2f2" stroke-width="1.5"/>
<text x="586.8" y="865.39" font-family='"Liberation Sans", sans-serif' font-size="17.5" fill="#e6e6e6">2000</text>
<path d="M567.3 913.01H579.3" stroke="#f2f2f2" stroke-width="1.5"/>
<text x="586.8" y="918.01" font-family='"Liberation Sans", sans-serif' font-size="17.5" fill="#e6e6e6">1500</text>
<path d="M567.3 965.64H579.3" stroke="#f2f2f2" stroke-width="1.5"/>
<text x="586.8" y="970.64" font-family='"Liberation Sans", sans-serif' font-size="17.5" fill="#e6e6e6">1000</text>
<path d="M567.3 1018.27H579.3" stroke="#f2f2f2" stroke-width="1.5"/>
<text x="586.8" y="1023.27" font-family='"Liberation Sans", sans-serif' font-size="17.5" fill="#e6e6e6">500</text>
<path d="M567.3 1070.9H579.3" stroke="#f2f2f2" stroke-width="1.5"/>
<text x="586.8" y="1075.9" font-family='"Liberation Sans", sans-serif' font-size="17.5" fill="#e6e6e6">0</text>
<text x="359.2" y="686.7" font-family='"Liberation Sans", sans-serif' font-size="60.7" fill="#fff" text-anchor="middle">Before</text>
<rect x="943" y="620" width="1.2" height="526.6" fill="#111"/>
<rect x="943" y="1145.6" width="527" height="1.2" fill="#111"/>
<rect x="946" y="620" width="524" height="524" fill="#000"/>
<path d="M1203 751.6L1209 751.6L1217 758L1226 767.5L1236 778L1247 787.5L1258 797L1268 806.5L1277 815.5L1283.5 824L1288 834L1289.4 845L1289.4 886L1285.5 897L1279.5 907L1272 918L1264 929L1255 940L1245 950L1234 959.5L1225 968L1219 976L1214 983.5L1208 984.2L1205 982L1198 973.5L1190 964L1180 953.5L1169 943L1158 933L1149.5 923L1143 913.5L1137.5 903L1133.5 893L1130.8 878L1130.8 850L1133.5 835L1138 825L1143.5 815L1150 805.5L1158 796.5L1168 787L1178 777.5L1187 768.5L1196 759ZM1176.5 805.7L1198.7 805.7L1206.5 808.7L1216.1 813.5L1222.1 821.9L1228.1 827.9L1232.4 833.9L1236 842.3L1236.6 851.9L1231.8 856.8L1228.1 860.4L1228.1 867.2L1216.1 870.8L1218.5 874.4L1216.1 887.6L1212.5 894.8L1208.9 903.3L1202.9 909.3L1189.1 914.1L1176.5 909.3L1168.1 904.5L1162.1 897.3L1156 888.8L1151.2 881.6L1146.4 870.8L1142.2 860L1142.2 833.9L1146.4 829.1L1151.2 821.9L1157.3 813.5L1166.9 808.1Z" fill="#70c6e2" fill-rule="evenodd"/>
<rect x="1364.6" y="691.6" width="18" height="372" fill="url(#cmap)"/>
<rect x="1364.35" y="691.35" width="18.5" height="372.5" fill="none" stroke="#f2f2f2" stroke-width="1.5"/>
<path d="M1383.6 693.8H1395.6" stroke="#f2f2f2" stroke-width="1.5"/>
<text x="1403.1" y="698.8" font-family='"Liberation Sans", sans-serif' font-size="17.5" fill="#e6e6e6">3500</text>
<path d="M1383.6 746.43H1395.6" stroke="#f2f2f2" stroke-width="1.5"/>
<text x="1403.1" y="751.43" font-family='"Liberation Sans", sans-serif' font-size="17.5" fill="#e6e6e6">3000</text>
<path d="M1383.6 799.06H1395.6" stroke="#f2f2f2" stroke-width="1.5"/>
<text x="1403.1" y="804.06" font-family='"Liberation Sans", sans-serif' font-size="17.5" fill="#e6e6e6">2500</text>
<path d="M1383.6 851.69H1395.6" stroke="#f2f2f2" stroke-width="1.5"/>
<text x="1403.1" y="856.69" font-family='"Liberation Sans", sans-serif' font-size="17.5" fill="#e6e6e6">2000</text>
<path d="M1383.6 904.31H1395.6" stroke="#f2f2f2" stroke-width="1.5"/>
<text x="1403.1" y="909.31" font-family='"Liberation Sans", sans-serif' font-size="17.5" fill="#e6e6e6">1500</text>
<path d="M1383.6 956.94H1395.6" stroke="#f2f2f2" stroke-width="1.5"/>
<text x="1403.1" y="961.94" font-family='"Liberation Sans", sans-serif' font-size="17.5" fill="#e6e6e6">1000</text>
<path d="M1383.6 1009.57H1395.6" stroke="#f2f2f2" stroke-width="1.5"/>
<text x="1403.1" y="1014.57" font-family='"Liberation Sans", sans-serif' font-size="17.5" fill="#e6e6e6">500</text>
<path d="M1383.6 1062.2H1395.6" stroke="#f2f2f2" stroke-width="1.5"/>
<text x="1403.1" y="1067.2" font-family='"Liberation Sans", sans-serif' font-size="17.5" fill="#e6e6e6">0</text>
<text x="1180.4" y="686.6" font-family='"Liberation Sans", sans-serif' font-size="60.7" fill="#fff" text-anchor="middle">After</text>
<rect x="123" y="1228" width="1.2" height="526.6" fill="#111"/>
<rect x="123" y="1753.6" width="527" height="1.2" fill="#111"/>
<rect x="126" y="1228" width="524" height="524" fill="#000"/>
<path d="M375.4 1404.9L380.3 1404.9L385 1409.3L391 1412.8L397 1416.3L403.6 1420.1L410.6 1424.3L419 1431.4L427.4 1435.6L433 1439.8L438.6 1445.4L443 1450.3L446.5 1458.6L453.2 1462.3L459.4 1466L463.7 1462.9L466.8 1466.6L473 1470.3L475.4 1466L482.8 1467.8L480.4 1473.4L474.2 1478.3L465.6 1483.3L465 1485.8L465 1531.5L461.8 1547.5L458.1 1553.7L453.2 1563.6L445.8 1573.5L439.6 1583.3L433.4 1588.3L424.8 1594.5L418.6 1598.2L408.7 1603.1L403.8 1608L391.5 1611.7L381.6 1613L379.1 1611.7L366.8 1608L361.8 1603.1L354.4 1599.4L350.7 1594.5L342 1590.8L333.4 1582.1L328.5 1577.2L323.5 1568.5L318.6 1558.6L314.9 1547.5L312.4 1526.5L311.2 1506.7L313.6 1485.8L317.3 1473.4L321.1 1464.8L324.8 1457.3L329.7 1451.2L333.4 1443.8L338.3 1437.6L344.5 1432.6L350.7 1427.7L356.9 1422.8L364.3 1416.6L371.7 1410.4ZM369.2 1442.5L403.8 1442.5L403.8 1446.3L412.4 1448.7L416.2 1453.6L421.1 1457.3L427.3 1461.1L429.7 1467.2L434.7 1470.9L435.9 1494.4L433.4 1498.1L429.7 1503L423.6 1506.7L421.1 1511.1L379.1 1511.7L377.9 1526.5L372.9 1532.7L371.7 1540.1L363 1543.8L351.9 1543.8L343.3 1540.1L337.1 1533.9L332.2 1527.8L327.2 1519.1L327.2 1504.3L322.3 1501.8L322.3 1496.9L327.2 1494.4L328.5 1483.3L330.9 1475.9L334.6 1468.5L339.6 1461.1L344.5 1456.1L351.9 1451.2L356.9 1447.5L364.3 1445Z" fill="#d42427" fill-rule="evenodd" filter="url(#nzd)"/>
<rect x="552.6" y="1301.3" width="18" height="372" fill="url(#cmap)"/>
<rect x="552.35" y="1301.05" width="18.5" height="372.5" fill="none" stroke="#f2f2f2" stroke-width="1.5"/>
<path d="M571.6 1303.5H583.6" stroke="#f2f2f2" stroke-width="1.5"/>
<text x="591.1" y="1308.5" font-family='"Liberation Sans", sans-serif' font-size="17.5" fill="#e6e6e6">0.50</text>
<path d="M571.6 1395.6H583.6" stroke="#f2f2f2" stroke-width="1.5"/>
<text x="591.1" y="1400.6" font-family='"Liberation Sans", sans-serif' font-size="17.5" fill="#e6e6e6">0.45</text>
<path d="M571.6 1487.7H583.6" stroke="#f2f2f2" stroke-width="1.5"/>
<text x="591.1" y="1492.7" font-family='"Liberation Sans", sans-serif' font-size="17.5" fill="#e6e6e6">0.40</text>
<path d="M571.6 1579.8H583.6" stroke="#f2f2f2" stroke-width="1.5"/>
<text x="591.1" y="1584.8" font-family='"Liberation Sans", sans-serif' font-size="17.5" fill="#e6e6e6">0.35</text>
<path d="M571.6 1671.9H583.6" stroke="#f2f2f2" stroke-width="1.5"/>
<text x="591.1" y="1676.9" font-family='"Liberation Sans", sans-serif' font-size="17.5" fill="#e6e6e6">0.30</text>
<text x="359.2" y="1291.7" font-family='"Liberation Sans", sans-serif' font-size="60.7" fill="#fff" text-anchor="middle">Before</text>
<rect x="943" y="1228" width="1.2" height="526.6" fill="#111"/>
<rect x="943" y="1753.6" width="527" height="1.2" fill="#111"/>
<rect x="946" y="1228" width="524" height="524" fill="#000"/>
<path d="M1203 1359.6L1209 1359.6L1217 1366L1226 1375.5L1236 1386L1247 1395.5L1258 1405L1268 1414.5L1277 1423.5L1283.5 1432L1288 1442L1289.4 1453L1289.4 1494L1285.5 1505L1279.5 1515L1272 1526L1264 1537L1255 1548L1245 1558L1234 1567.5L1225 1576L1219 1584L1214 1591.5L1208 1592.2L1205 1590L1198 1581.5L1190 1572L1180 1561.5L1169 1551L1158 1541L1149.5 1531L1143 1521.5L1137.5 1511L1133.5 1501L1130.8 1486L1130.8 1458L1133.5 1443L1138 1433L1143.5 1423L1150 1413.5L1158 1404.5L1168 1395L1178 1385.5L1187 1376.5L1196 1367ZM1176.5 1413.7L1198.7 1413.7L1206.5 1416.7L1216.1 1421.5L1222.1 1429.9L1228.1 1435.9L1232.4 1441.9L1236 1450.3L1236.6 1459.9L1231.8 1464.8L1228.1 1468.4L1228.1 1475.2L1216.1 1478.8L1218.5 1482.4L1216.1 1495.6L1212.5 1502.8L1208.9 1511.3L1202.9 1517.3L1189.1 1522.1L1176.5 1517.3L1168.1 1512.5L1162.1 1505.3L1156 1496.8L1151.2 1489.6L1146.4 1478.8L1142.2 1468L1142.2 1441.9L1146.4 1437.1L1151.2 1429.9L1157.3 1421.5L1166.9 1416.1Z" fill="#a8d03c" fill-rule="evenodd" filter="url(#nzf)"/>
<rect x="1366.9" y="1289.2" width="18" height="372" fill="url(#cmap)"/>
<rect x="1366.65" y="1288.95" width="18.5" height="372.5" fill="none" stroke="#f2f2f2" stroke-width="1.5"/>
<path d="M1385.9 1291.4H1397.9" stroke="#f2f2f2" stroke-width="1.5"/>
<text x="1405.4" y="1296.4" font-family='"Liberation Sans", sans-serif' font-size="17.5" fill="#e6e6e6">0.50</text>
<path d="M1385.9 1383.5H1397.9" stroke="#f2f2f2" stroke-width="1.5"/>
<text x="1405.4" y="1388.5" font-family='"Liberation Sans", sans-serif' font-size="17.5" fill="#e6e6e6">0.45</text>
<path d="M1385.9 1475.6H1397.9" stroke="#f2f2f2" stroke-width="1.5"/>
<text x="1405.4" y="1480.6" font-family='"Liberation Sans", sans-serif' font-size="17.5" fill="#e6e6e6">0.40</text>
<path d="M1385.9 1567.7H1397.9" stroke="#f2f2f2" stroke-width="1.5"/>
<text x="1405.4" y="1572.7" font-family='"Liberation Sans", sans-serif' font-size="17.5" fill="#e6e6e6">0.35</text>
<path d="M1385.9 1659.8H1397.9" stroke="#f2f2f2" stroke-width="1.5"/>
<text x="1405.4" y="1664.8" font-family='"Liberation Sans", sans-serif' font-size="17.5" fill="#e6e6e6">0.30</text>
<text x="1180.4" y="1291.6" font-family='"Liberation Sans", sans-serif' font-size="60.7" fill="#fff" text-anchor="middle">After</text>
<g font-family='"Liberation Sans", sans-serif' font-size="60.7" fill="#fff" text-anchor="middle">
<text x="359.2" y="1120.6">Lifetime</text>
<text x="1178.0" y="1120.6">Lifetime</text>
<text x="359.5" y="1724.1">Anisotropy</text>
<text x="1178.8" y="1724.1">Anisotropy</text>
</g>
<text x="798" y="846.5" font-family='"Liberation Sans", sans-serif' font-weight="bold" font-size="40.9" fill="#231f20" text-anchor="middle">ionomycin</text>
<path d="M731.3 895.25H812V903.75H731.3Z" fill="#231f20"/>
<path d="M791.3 857.7Q815 879.5 866.6 899.5Q815 919.5 791.3 941L805.8 899.5Z" fill="#231f20"/>
<text x="798" y="1455.7" font-family='"Liberation Sans", sans-serif' font-weight="bold" font-size="40.9" fill="#231f20" text-anchor="middle">ionomycin</text>
<path d="M731.3 1508.75H812V1517.25H731.3Z" fill="#231f20"/>
<path d="M791.3 1471.2Q815 1493 866.6 1513Q815 1533 791.3 1554.5L805.8 1513Z" fill="#231f20"/>
<rect x="1011.3" y="1264.4" width="4.3" height="4.4" fill="#fff"/>
<rect x="1461.3" y="1702.4" width="4.3" height="4.4" fill="#fff"/>
</svg></body></html>
